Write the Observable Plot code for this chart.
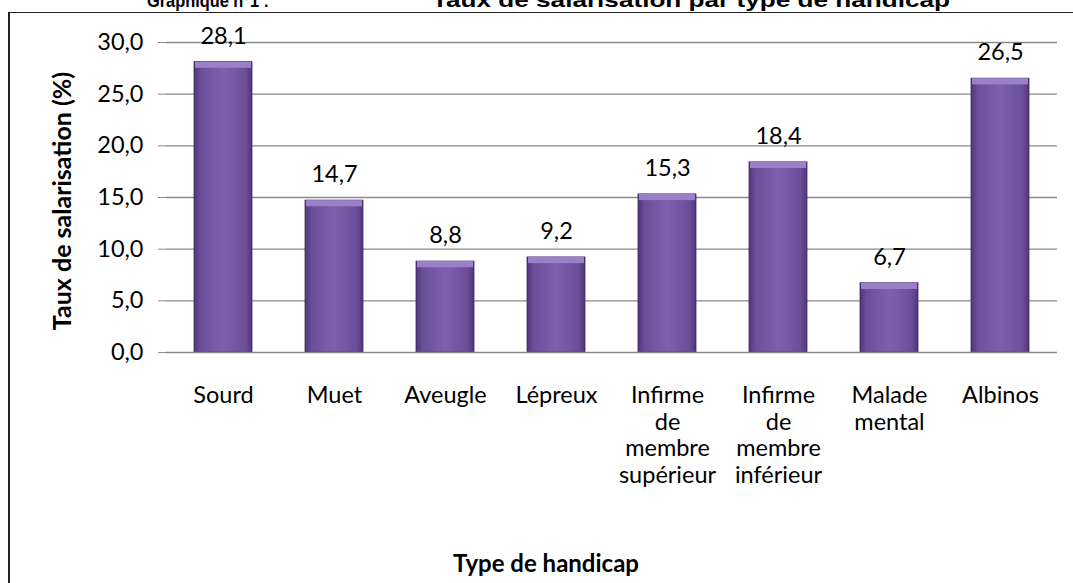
<!DOCTYPE html>
<html>
<head>
<meta charset="utf-8">
<script src="https://cdn.jsdelivr.net/npm/d3@7"></script>
<script src="https://cdn.jsdelivr.net/npm/@observablehq/plot@0.6"></script>
<style>
  html, body { margin: 0; padding: 0; background: #fff; overflow: hidden; }
  #wrap { position: relative; width: 1073px; height: 583px; }
  #frame { position: absolute; left: 8px; top: 12px; width: 1100px; height: 600px;
           border-left: 2px solid #222; border-top: 1.5px solid #222; }
  #titlebar { position: absolute; left: 0; top: 0; }
  #chart { position: absolute; left: 0; top: 0; }
</style>
</head>
<body>
<div id="wrap">
  <div id="frame"></div>
  <svg id="titlebar" width="1073" height="20">
    <text x="147" y="7" font-family="Liberation Sans, Arial, sans-serif" font-weight="bold" font-size="18"
          textLength="122" lengthAdjust="spacingAndGlyphs">Graphique n°1 :</text>
    <text x="432" y="7" font-family="Liberation Sans, Arial, sans-serif" font-weight="bold" font-size="21"
          textLength="518" lengthAdjust="spacingAndGlyphs">Taux de salarisation par type de handicap</text>
  </svg>
  <div id="chart"></div>
</div>
<script>
const categories = ["Sourd", "Muet", "Aveugle", "Lépreux",
  "Infirme\nde\nmembre\nsupérieur", "Infirme\nde\nmembre\ninférieur",
  "Malade\nmental", "Albinos"];
const values = [28.1, 14.7, 8.8, 9.2, 15.3, 18.4, 6.7, 26.5];
const yTicks = [0, 5, 10, 15, 20, 25, 30];
const yTitle = "Taux de salarisation (%)";
const xTitle = "Type de handicap";

const data = categories.map((c, i) => ({cat: c, v: values[i]}));
const fmt = d => d.toFixed(1).replace(".", ",");
const font = "Lato, 'Open Sans', sans-serif";
const fs = 23.5;

const defs = () => {
  const g = d3.create("svg:defs");
  const lg = g.append("linearGradient").attr("id", "barGrad").attr("x1", 0).attr("x2", 1).attr("y1", 0).attr("y2", 0);
  lg.append("stop").attr("offset", "0%").attr("stop-color", "#4f3779");
  lg.append("stop").attr("offset", "12%").attr("stop-color", "#6c4f9b");
  lg.append("stop").attr("offset", "50%").attr("stop-color", "#7d5fae");
  lg.append("stop").attr("offset", "88%").attr("stop-color", "#6c4f9b");
  lg.append("stop").attr("offset", "100%").attr("stop-color", "#4f3779");
  return g.node();
};

const plot = Plot.plot({
  width: 1073,
  height: 583,
  marginLeft: 166,
  marginRight: 16,
  marginTop: 42,
  marginBottom: 231,
  style: {fontFamily: font, fontSize: fs + "px", color: "#000", background: "transparent"},
  x: {domain: categories, paddingInner: 0.48, paddingOuter: 0.24, label: null},
  y: {domain: [0, 30], label: null},
  marks: [
    defs,
    Plot.gridY(yTicks.slice(1), {stroke: "#8a8a8a", strokeOpacity: 1, strokeWidth: 1.3}),
    Plot.barY(data, {x: "cat", y: "v", fill: "url(#barGrad)", stroke: "#3f2a63", strokeWidth: 0.8}),
    Plot.barY(data, {x: "cat", y1: d => d.v - 0.6, y2: "v", fill: "#9a80c8", insetLeft: 1, insetRight: 1}),
    Plot.ruleY([0], {stroke: "#8a8a8a", strokeWidth: 1.3}),
    Plot.axisY({ticks: yTicks, tickFormat: fmt, tickSize: 8, tickPadding: 15, stroke: "#8a8a8a", fontSize: fs}),
    Plot.ruleX([0], {frameAnchor: "left", stroke: "#8a8a8a", strokeWidth: 1.3}),
    Plot.axisX({tickSize: 0, tickPadding: 32, lineHeight: 1.13, fontSize: fs}),
    Plot.text(data, {x: "cat", y: "v", text: d => fmt(d.v), dy: -26, fontSize: fs, lineAnchor: "middle"})
  ]
});

const svg = d3.select(plot);
svg.append("text").attr("transform", "translate(71,201) rotate(-90)").attr("text-anchor", "middle")
  .attr("font-weight", "bold").attr("font-size", 25).attr("font-family", font).attr("fill", "#000").text(yTitle);
svg.append("text").attr("x", 546).attr("y", 572).attr("text-anchor", "middle")
  .attr("font-weight", "bold").attr("font-size", 24).attr("font-family", font).attr("fill", "#000").text(xTitle);

document.getElementById("chart").appendChild(plot);
</script>
</body>
</html>
